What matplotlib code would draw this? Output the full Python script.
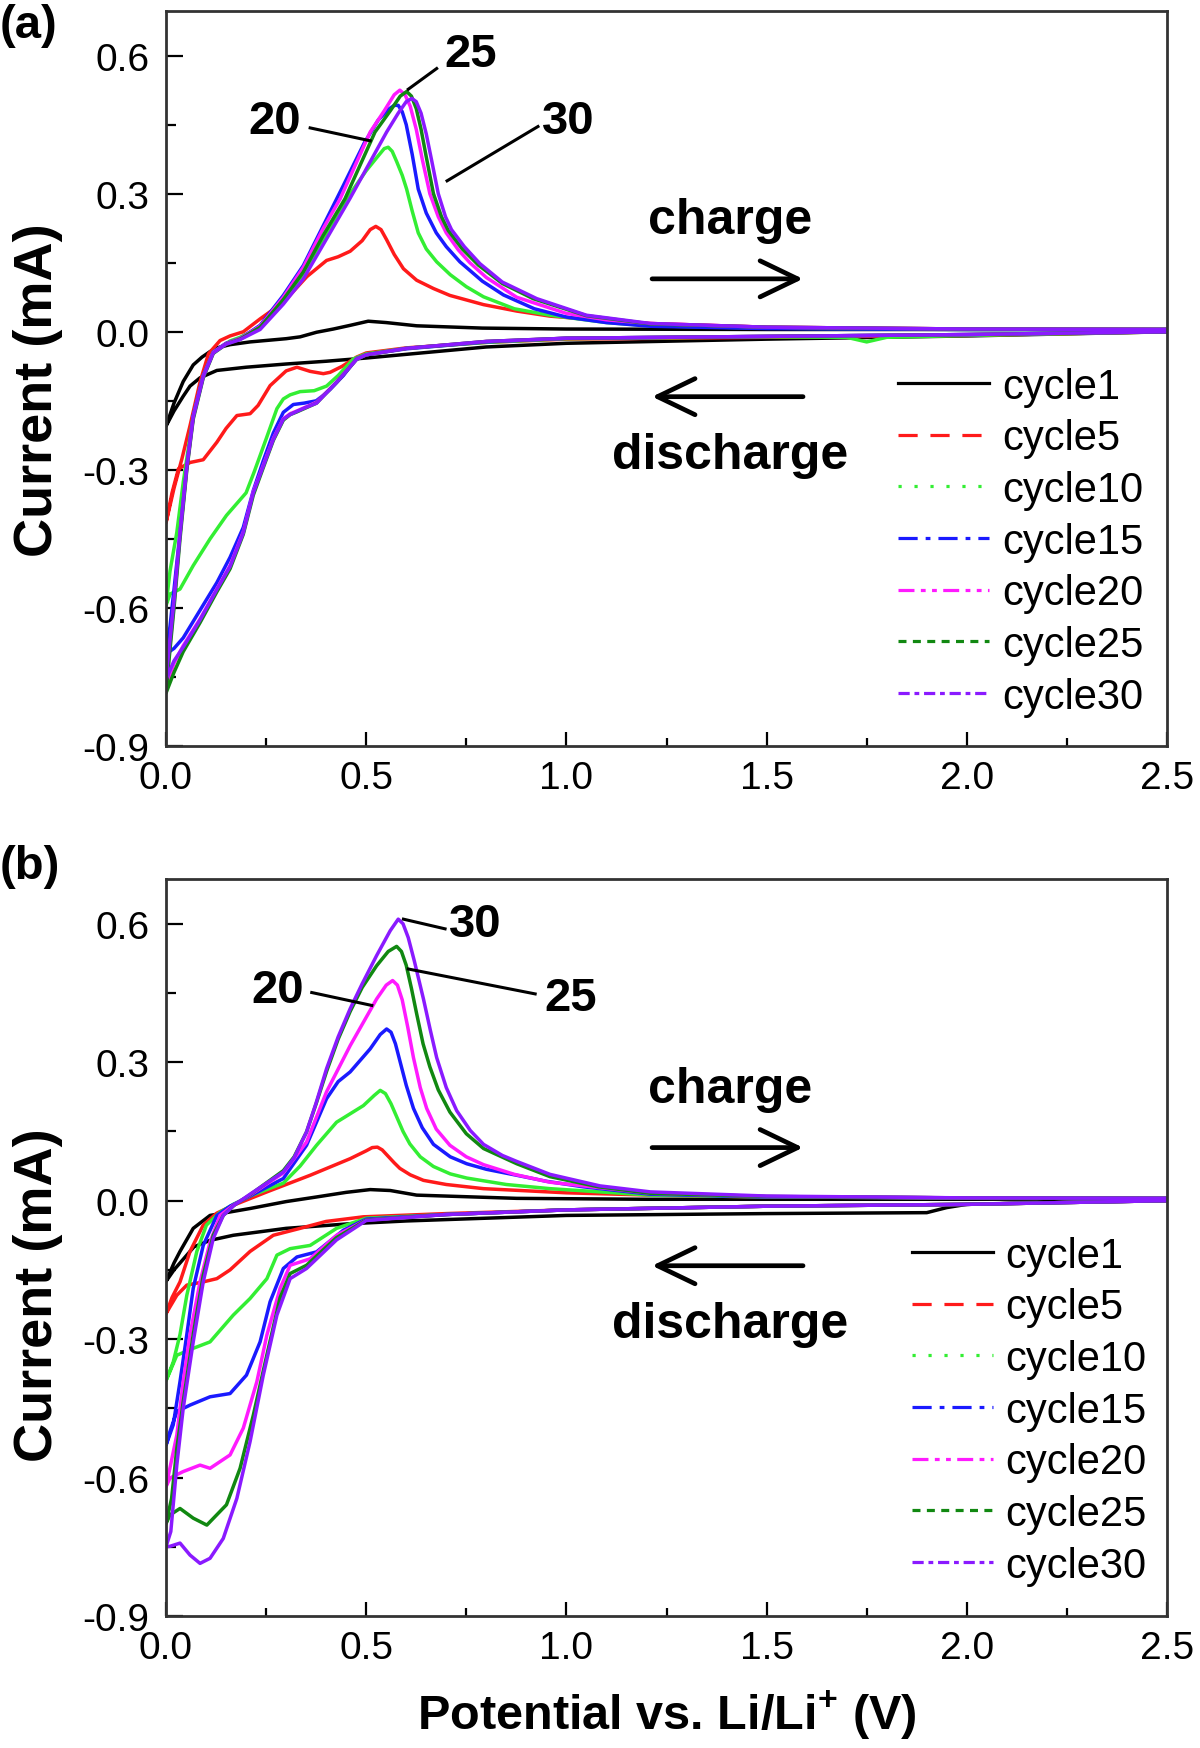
import matplotlib
matplotlib.use('Agg')
import matplotlib.pyplot as plt
from matplotlib.lines import Line2D
from matplotlib.ticker import MultipleLocator, FixedLocator, FixedFormatter

plt.rcParams['font.family'] = ['Liberation Sans', 'DejaVu Sans']
plt.rcParams['axes.unicode_minus'] = False
plt.rcParams['mathtext.fontset'] = 'custom'
plt.rcParams['mathtext.rm'] = 'Liberation Sans'
plt.rcParams['mathtext.bf'] = 'Liberation Sans:bold'

# ---------------- data ----------------
cycles = ['cycle1', 'cycle5', 'cycle10', 'cycle15', 'cycle20', 'cycle25', 'cycle30']
colors = ['#000000', '#ff1a1a', '#33ee33', '#1a1aff', '#ff1aff', '#118811', '#8a1aff']
styles = ['-', (0, (6, 4)), (0, (1, 4)), (0, (6, 2.5, 1.5, 2.5)),
          (0, (5, 2, 1.5, 2, 1.5, 2)), (0, (2.5, 2)), (0, (3.5, 1.5, 1.5, 1.5))]

x_ticks = [0.0, 0.5, 1.0, 1.5, 2.0, 2.5]
x_ticklabels = ['0.0', '0.5', '1.0', '1.5', '2.0', '2.5']
y_ticks = [-0.9, -0.6, -0.3, 0.0, 0.3, 0.6]
y_ticklabels = ['-0.9', '-0.6', '-0.3', '0.0', '0.3', '0.6']

# panel (a): (potential V, current mA) points, discharge (2.5 -> 0) and charge (0 -> 2.5)
a_c1_dis = [(2.5, 0.0), (2.0, -0.009), (1.5, -0.016), (1.0, -0.025), (0.8, -0.033), (0.6, -0.049),
            (0.5, -0.057), (0.4, -0.064), (0.3, -0.07), (0.2, -0.077), (0.127, -0.084), (0.085, -0.1),
            (0.06, -0.118), (0.043, -0.14), (0.02, -0.172), (0.0, -0.205)]
a_c1_chg = [(0.0, -0.205), (0.02, -0.155), (0.043, -0.108), (0.068, -0.072), (0.09, -0.055), (0.11, -0.043),
            (0.127, -0.035), (0.16, -0.028), (0.21, -0.022), (0.3, -0.015), (0.335, -0.011), (0.376, -0.001),
            (0.418, 0.006), (0.46, 0.014), (0.505, 0.023), (0.55, 0.02), (0.626, 0.013), (0.79, 0.008),
            (1.0, 0.006), (1.5, 0.005), (2.0, 0.005), (2.5, 0.005)]
a_c5_dis = [(2.5, 0.0), (2.0, -0.008), (1.5, -0.012), (1.0, -0.016), (0.8, -0.023), (0.6, -0.035),
            (0.5, -0.046), (0.476, -0.055), (0.44, -0.075), (0.41, -0.088), (0.393, -0.091), (0.36, -0.086),
            (0.327, -0.077), (0.3, -0.085), (0.26, -0.117), (0.23, -0.16), (0.21, -0.178), (0.177, -0.182),
            (0.15, -0.21), (0.127, -0.24), (0.093, -0.278), (0.06, -0.284), (0.031, -0.298), (0.015, -0.35),
            (0.0, -0.415)]
a_c5_chg = [(0.0, -0.415), (0.02, -0.34), (0.04, -0.275), (0.06, -0.204), (0.085, -0.109), (0.106, -0.048),
            (0.135, -0.019), (0.16, -0.009), (0.193, 0.0), (0.235, 0.028), (0.293, 0.064), (0.352, 0.12),
            (0.401, 0.155), (0.43, 0.163), (0.46, 0.175), (0.49, 0.198), (0.51, 0.222), (0.524, 0.229),
            (0.537, 0.222), (0.551, 0.2), (0.57, 0.168), (0.593, 0.137), (0.626, 0.112), (0.668, 0.094),
            (0.709, 0.079), (0.793, 0.059), (0.876, 0.045), (0.959, 0.034), (1.1, 0.024), (1.21, 0.018),
            (1.5, 0.01), (2.0, 0.006), (2.5, 0.005)]
a_c10_dis = [(2.5, 0.0), (2.0, -0.008), (1.8, -0.012), (1.75, -0.022), (1.7, -0.012), (1.5, -0.011),
             (1.0, -0.015), (0.8, -0.023), (0.6, -0.036), (0.5, -0.048), (0.468, -0.059), (0.43, -0.095),
             (0.401, -0.118), (0.37, -0.128), (0.335, -0.13), (0.31, -0.137), (0.293, -0.146), (0.277, -0.167),
             (0.25, -0.233), (0.22, -0.305), (0.2, -0.35), (0.151, -0.399), (0.11, -0.45), (0.068, -0.508),
             (0.035, -0.559), (0.01, -0.57), (0.0, -0.595)]
a_c10_chg = [(0.0, -0.595), (0.01, -0.52), (0.027, -0.436), (0.043, -0.327), (0.068, -0.182), (0.093, -0.095),
             (0.118, -0.044), (0.16, -0.02), (0.185, -0.012), (0.235, 0.01), (0.293, 0.065), (0.343, 0.125),
             (0.393, 0.2), (0.46, 0.3), (0.5, 0.35), (0.526, 0.378), (0.545, 0.398), (0.555, 0.401),
             (0.565, 0.392), (0.576, 0.37), (0.59, 0.34), (0.601, 0.31), (0.615, 0.262), (0.63, 0.215),
             (0.65, 0.18), (0.676, 0.152), (0.71, 0.124), (0.75, 0.098), (0.793, 0.076), (0.87, 0.05),
             (0.959, 0.036), (1.1, 0.02), (1.21, 0.013), (1.5, 0.008), (2.0, 0.005), (2.5, 0.005)]
a_c15_dis = [(2.5, 0.0), (2.0, -0.006), (1.5, -0.01), (1.0, -0.014), (0.8, -0.022), (0.6, -0.037),
             (0.5, -0.05), (0.476, -0.058), (0.443, -0.095), (0.41, -0.125), (0.393, -0.138), (0.375, -0.15),
             (0.345, -0.155), (0.318, -0.158), (0.293, -0.175), (0.268, -0.22), (0.243, -0.28), (0.218, -0.345),
             (0.193, -0.425), (0.16, -0.49), (0.127, -0.545), (0.085, -0.605), (0.043, -0.665), (0.02, -0.688),
             (0.0, -0.70)]
a_c15_chg = [(0.0, -0.70), (0.01, -0.64), (0.02, -0.56), (0.035, -0.436), (0.052, -0.29), (0.068, -0.182),
             (0.093, -0.095), (0.118, -0.044), (0.15, -0.025), (0.185, -0.015), (0.235, 0.014), (0.293, 0.079),
             (0.343, 0.144), (0.393, 0.231), (0.443, 0.318), (0.495, 0.41), (0.53, 0.46), (0.555, 0.483),
             (0.57, 0.492), (0.58, 0.492), (0.59, 0.478), (0.6, 0.45), (0.615, 0.385), (0.63, 0.31),
             (0.65, 0.258), (0.675, 0.215), (0.7, 0.185), (0.734, 0.152), (0.79, 0.11), (0.843, 0.08),
             (0.92, 0.05), (1.0, 0.032), (1.1, 0.02), (1.21, 0.012), (1.5, 0.007), (2.0, 0.005), (2.5, 0.005)]
a_c20_dis = [(2.5, 0.0), (2.0, -0.006), (1.5, -0.01), (1.0, -0.014), (0.8, -0.021), (0.6, -0.036),
             (0.5, -0.05), (0.476, -0.059), (0.426, -0.109), (0.376, -0.153), (0.345, -0.165), (0.327, -0.172),
             (0.31, -0.178), (0.293, -0.189), (0.268, -0.232), (0.243, -0.29), (0.218, -0.348), (0.193, -0.435),
             (0.16, -0.508), (0.127, -0.559), (0.085, -0.624), (0.043, -0.682), (0.02, -0.72), (0.0, -0.77)]
a_c20_chg = [(0.0, -0.77), (0.01, -0.68), (0.02, -0.59), (0.035, -0.44), (0.052, -0.295), (0.068, -0.185),
             (0.093, -0.097), (0.118, -0.045), (0.15, -0.026), (0.185, -0.015), (0.235, 0.012), (0.293, 0.075),
             (0.343, 0.14), (0.393, 0.225), (0.435, 0.289), (0.51, 0.434), (0.545, 0.48), (0.57, 0.515),
             (0.584, 0.525), (0.597, 0.515), (0.61, 0.49), (0.625, 0.44), (0.64, 0.375), (0.659, 0.3),
             (0.68, 0.25), (0.7, 0.215), (0.73, 0.178), (0.759, 0.15), (0.8, 0.118), (0.876, 0.075),
             (1.0, 0.04), (1.1, 0.026), (1.21, 0.018), (1.5, 0.01), (2.0, 0.006), (2.5, 0.005)]
a_c25_dis = [(2.5, 0.0), (2.0, -0.006), (1.5, -0.01), (1.0, -0.014), (0.8, -0.021), (0.6, -0.036),
             (0.5, -0.05), (0.476, -0.06), (0.426, -0.11), (0.376, -0.155), (0.345, -0.167), (0.327, -0.174),
             (0.31, -0.18), (0.293, -0.192), (0.268, -0.236), (0.243, -0.295), (0.218, -0.355), (0.193, -0.44),
             (0.16, -0.515), (0.127, -0.565), (0.085, -0.632), (0.043, -0.695), (0.02, -0.74), (0.0, -0.785)]
a_c25_chg = [(0.0, -0.785), (0.01, -0.69), (0.02, -0.6), (0.035, -0.45), (0.052, -0.3), (0.068, -0.19),
             (0.093, -0.1), (0.118, -0.047), (0.15, -0.027), (0.185, -0.016), (0.235, 0.01), (0.293, 0.07),
             (0.343, 0.13), (0.393, 0.21), (0.447, 0.289), (0.522, 0.434), (0.56, 0.48), (0.585, 0.512),
             (0.601, 0.522), (0.613, 0.512), (0.625, 0.485), (0.637, 0.44), (0.65, 0.38), (0.668, 0.3),
             (0.688, 0.25), (0.705, 0.22), (0.74, 0.18), (0.78, 0.145), (0.84, 0.105), (0.917, 0.072),
             (1.05, 0.035), (1.21, 0.017), (1.5, 0.01), (2.0, 0.006), (2.5, 0.005)]
a_c30_dis = [(2.5, 0.0), (2.0, -0.006), (1.5, -0.01), (1.0, -0.014), (0.8, -0.021), (0.6, -0.036),
             (0.5, -0.05), (0.476, -0.06), (0.426, -0.11), (0.376, -0.155), (0.345, -0.166), (0.327, -0.173),
             (0.31, -0.18), (0.293, -0.19), (0.268, -0.234), (0.243, -0.292), (0.218, -0.35), (0.193, -0.437),
             (0.16, -0.51), (0.127, -0.56), (0.085, -0.626), (0.043, -0.685), (0.02, -0.715), (0.0, -0.755)]
a_c30_chg = [(0.0, -0.755), (0.01, -0.67), (0.02, -0.585), (0.035, -0.44), (0.052, -0.295), (0.068, -0.186),
             (0.093, -0.098), (0.118, -0.046), (0.15, -0.027), (0.185, -0.017), (0.235, 0.005), (0.293, 0.06),
             (0.343, 0.115), (0.393, 0.19), (0.459, 0.289), (0.551, 0.434), (0.58, 0.475), (0.6, 0.5),
             (0.614, 0.507), (0.625, 0.5), (0.637, 0.475), (0.65, 0.43), (0.664, 0.37), (0.68, 0.3),
             (0.698, 0.25), (0.713, 0.222), (0.745, 0.185), (0.784, 0.148), (0.84, 0.108), (0.926, 0.072),
             (1.05, 0.036), (1.21, 0.018), (1.5, 0.01), (2.0, 0.006), (2.5, 0.005)]

# panel (b)
b_c1_dis = [(2.5, 0.0), (2.2, -0.004), (2.0, -0.008), (1.95, -0.015), (1.9, -0.026), (1.5, -0.028),
            (1.0, -0.032), (0.6, -0.044), (0.46, -0.05), (0.3, -0.06), (0.168, -0.075), (0.11, -0.086),
            (0.07, -0.1), (0.043, -0.127), (0.02, -0.15), (0.0, -0.175)]
b_c1_chg = [(0.0, -0.175), (0.02, -0.135), (0.035, -0.11), (0.068, -0.06), (0.11, -0.032), (0.21, -0.017),
            (0.3, -0.002), (0.376, 0.008), (0.45, 0.018), (0.51, 0.024), (0.56, 0.022), (0.626, 0.012),
            (0.876, 0.005), (1.2, 0.003), (1.5, 0.003), (2.0, 0.003), (2.5, 0.004)]
b_c5_dis = [(2.5, 0.0), (2.0, -0.008), (1.5, -0.012), (1.0, -0.02), (0.7, -0.028), (0.493, -0.035),
            (0.4, -0.045), (0.335, -0.06), (0.268, -0.075), (0.21, -0.11), (0.16, -0.15), (0.127, -0.169),
            (0.093, -0.176), (0.052, -0.183), (0.027, -0.205), (0.01, -0.23), (0.0, -0.245)]
b_c5_chg = [(0.0, -0.245), (0.015, -0.21), (0.035, -0.176), (0.06, -0.11), (0.093, -0.053), (0.127, -0.027),
            (0.168, -0.01), (0.252, 0.019), (0.36, 0.055), (0.46, 0.091), (0.5, 0.108), (0.515, 0.115),
            (0.528, 0.116), (0.54, 0.11), (0.555, 0.096), (0.57, 0.082), (0.584, 0.07), (0.61, 0.056),
            (0.643, 0.044), (0.7, 0.035), (0.793, 0.026), (1.0, 0.017), (1.21, 0.012), (1.5, 0.008),
            (2.0, 0.006), (2.5, 0.005)]
b_c10_dis = [(2.5, 0.0), (2.0, -0.008), (1.5, -0.012), (1.0, -0.02), (0.7, -0.03), (0.5, -0.038),
             (0.426, -0.06), (0.36, -0.097), (0.31, -0.104), (0.277, -0.118), (0.252, -0.169), (0.21, -0.212),
             (0.168, -0.248), (0.11, -0.306), (0.068, -0.32), (0.027, -0.335), (0.01, -0.37), (0.0, -0.39)]
b_c10_chg = [(0.0, -0.39), (0.018, -0.35), (0.035, -0.29), (0.052, -0.205), (0.077, -0.11), (0.101, -0.053),
             (0.135, -0.025), (0.168, -0.008), (0.21, 0.01), (0.293, 0.038), (0.335, 0.075), (0.376, 0.12),
             (0.426, 0.17), (0.493, 0.206), (0.52, 0.228), (0.535, 0.239), (0.548, 0.232), (0.562, 0.21),
             (0.576, 0.182), (0.592, 0.15), (0.609, 0.123), (0.635, 0.095), (0.668, 0.074), (0.71, 0.058),
             (0.751, 0.049), (0.85, 0.035), (0.959, 0.026), (1.21, 0.012), (1.5, 0.008), (2.0, 0.006),
             (2.5, 0.005)]
b_c15_dis = [(2.5, 0.0), (2.0, -0.008), (1.5, -0.012), (1.0, -0.02), (0.7, -0.03), (0.5, -0.04),
             (0.443, -0.064), (0.376, -0.111), (0.327, -0.122), (0.293, -0.147), (0.26, -0.219), (0.235, -0.306),
             (0.201, -0.378), (0.16, -0.418), (0.11, -0.425), (0.06, -0.443), (0.027, -0.457), (0.01, -0.5),
             (0.0, -0.53)]
b_c15_chg = [(0.0, -0.53), (0.018, -0.486), (0.035, -0.392), (0.052, -0.29), (0.068, -0.19), (0.093, -0.097),
             (0.127, -0.032), (0.16, -0.012), (0.21, 0.01), (0.293, 0.048), (0.351, 0.12), (0.401, 0.221),
             (0.43, 0.258), (0.46, 0.279), (0.51, 0.329), (0.535, 0.36), (0.551, 0.372), (0.562, 0.365),
             (0.573, 0.34), (0.585, 0.3), (0.6, 0.25), (0.618, 0.2), (0.64, 0.158), (0.668, 0.122),
             (0.71, 0.095), (0.751, 0.08), (0.8, 0.068), (0.876, 0.055), (0.95, 0.042), (1.042, 0.03),
             (1.21, 0.014), (1.5, 0.008), (2.0, 0.006), (2.5, 0.005)]
b_c20_dis = [(2.5, 0.0), (2.0, -0.008), (1.5, -0.012), (1.0, -0.02), (0.7, -0.03), (0.5, -0.042),
             (0.426, -0.075), (0.36, -0.126), (0.31, -0.14), (0.285, -0.19), (0.252, -0.291), (0.227, -0.392),
             (0.193, -0.493), (0.16, -0.551), (0.11, -0.58), (0.085, -0.573), (0.043, -0.587), (0.01, -0.601),
             (0.0, -0.62)]
b_c20_chg = [(0.0, -0.62), (0.027, -0.508), (0.043, -0.392), (0.06, -0.29), (0.085, -0.176), (0.11, -0.09),
             (0.135, -0.032), (0.168, -0.01), (0.21, 0.012), (0.293, 0.06), (0.351, 0.127), (0.401, 0.236),
             (0.46, 0.336), (0.526, 0.437), (0.55, 0.467), (0.566, 0.477), (0.578, 0.467), (0.59, 0.435),
             (0.604, 0.375), (0.618, 0.31), (0.635, 0.245), (0.651, 0.2), (0.675, 0.155), (0.709, 0.12),
             (0.75, 0.095), (0.793, 0.078), (0.87, 0.057), (0.959, 0.04), (1.21, 0.016), (1.5, 0.009),
             (2.0, 0.006), (2.5, 0.005)]
b_c25_dis = [(2.5, 0.0), (2.0, -0.008), (1.5, -0.012), (1.0, -0.02), (0.7, -0.03), (0.5, -0.042),
             (0.426, -0.08), (0.351, -0.14), (0.31, -0.158), (0.285, -0.21), (0.252, -0.334), (0.218, -0.465),
             (0.185, -0.58), (0.151, -0.659), (0.102, -0.703), (0.068, -0.688), (0.035, -0.667), (0.01, -0.681),
             (0.0, -0.70)]
b_c25_chg = [(0.0, -0.70), (0.014, -0.645), (0.027, -0.537), (0.043, -0.436), (0.068, -0.29), (0.093, -0.162),
             (0.118, -0.075), (0.143, -0.032), (0.17, -0.01), (0.21, 0.013), (0.293, 0.065), (0.32, 0.095),
             (0.351, 0.149), (0.375, 0.21), (0.401, 0.28), (0.43, 0.35), (0.46, 0.41), (0.49, 0.462),
             (0.526, 0.509), (0.555, 0.54), (0.576, 0.551), (0.588, 0.54), (0.6, 0.51), (0.613, 0.46),
             (0.626, 0.405), (0.642, 0.34), (0.659, 0.29), (0.68, 0.24), (0.709, 0.192), (0.75, 0.145),
             (0.793, 0.113), (0.876, 0.08), (0.959, 0.052), (1.08, 0.03), (1.21, 0.016), (1.5, 0.009),
             (2.0, 0.006), (2.5, 0.005)]
b_c30_dis = [(2.5, 0.0), (2.0, -0.008), (1.5, -0.012), (1.0, -0.02), (0.7, -0.03), (0.5, -0.043),
             (0.426, -0.085), (0.351, -0.147), (0.31, -0.169), (0.277, -0.248), (0.243, -0.378), (0.21, -0.522),
             (0.177, -0.645), (0.143, -0.732), (0.11, -0.775), (0.085, -0.786), (0.06, -0.768), (0.035, -0.742),
             (0.01, -0.749), (0.0, -0.75)]
b_c30_chg = [(0.0, -0.75), (0.012, -0.717), (0.027, -0.573), (0.043, -0.45), (0.068, -0.306), (0.093, -0.176),
             (0.118, -0.082), (0.143, -0.032), (0.17, -0.01), (0.21, 0.014), (0.293, 0.062), (0.32, 0.093),
             (0.351, 0.149), (0.375, 0.212), (0.401, 0.286), (0.43, 0.355), (0.46, 0.416), (0.49, 0.47),
             (0.526, 0.531), (0.56, 0.585), (0.58, 0.61), (0.592, 0.6), (0.605, 0.57), (0.62, 0.52),
             (0.643, 0.437), (0.66, 0.37), (0.676, 0.31), (0.7, 0.245), (0.726, 0.195), (0.76, 0.152),
             (0.793, 0.122), (0.84, 0.098), (0.876, 0.085), (0.959, 0.057), (1.084, 0.032), (1.21, 0.019),
             (1.5, 0.01), (2.0, 0.006), (2.5, 0.005)]

panel_a = [(a_c1_dis, a_c1_chg), (a_c5_dis, a_c5_chg), (a_c10_dis, a_c10_chg), (a_c15_dis, a_c15_chg),
           (a_c20_dis, a_c20_chg), (a_c25_dis, a_c25_chg), (a_c30_dis, a_c30_chg)]
panel_b = [(b_c1_dis, b_c1_chg), (b_c5_dis, b_c5_chg), (b_c10_dis, b_c10_chg), (b_c15_dis, b_c15_chg),
           (b_c20_dis, b_c20_chg), (b_c25_dis, b_c25_chg), (b_c30_dis, b_c30_chg)]

# ---------------- figure ----------------
W, H = 1200, 1749
fig = plt.figure(figsize=(W / 100, H / 100), dpi=100)
ax_a = fig.add_axes([166 / W, 1 - 747 / H, 1001 / W, 735 / H])
ax_b = fig.add_axes([166 / W, 1 - 1617 / H, 1001 / W, 737 / H])

TICK_FS = 28
LEG_FS = 30
LW = 2.5


def style_axes(ax):
    ax.set_xlim(0, 2.5)
    ax.set_ylim(-0.9, 0.697)
    ax.xaxis.set_major_locator(FixedLocator(x_ticks))
    ax.xaxis.set_major_formatter(FixedFormatter(x_ticklabels))
    ax.yaxis.set_major_locator(FixedLocator(y_ticks))
    ax.yaxis.set_major_formatter(FixedFormatter(y_ticklabels))
    ax.xaxis.set_minor_locator(MultipleLocator(0.25))
    ax.yaxis.set_minor_locator(MultipleLocator(0.15))
    ax.tick_params(axis='both', which='both', direction='in', top=False, right=False, width=1.6,
                   labelsize=TICK_FS)
    ax.tick_params(axis='x', which='major', length=10, pad=10)
    ax.tick_params(axis='y', which='major', length=12, pad=12)
    ax.tick_params(axis='x', which='minor', length=6)
    ax.tick_params(axis='y', which='minor', length=7)
    for sp in ax.spines.values():
        sp.set_linewidth(2.0)
        sp.set_color('#333333')


def draw_panel(ax, data):
    for (dis, chg), col in zip(data, colors):
        pts = dis + chg[1:]
        ax.plot([p[0] for p in pts], [p[1] for p in pts], color=col, lw=LW, ls='-',
                solid_joinstyle='round')


def decorate(ax, leg_xy, hlen):
    arrow_kw = dict(arrowstyle='->,head_length=1.35,head_width=0.65', lw=3.4, color='k',
                    mutation_scale=20, shrinkA=0, shrinkB=0)
    ax.annotate('', xy=(1.591, 0.115), xytext=(1.214, 0.115), arrowprops=arrow_kw)
    ax.annotate('', xy=(1.214, -0.141), xytext=(1.591, -0.141), arrowprops=arrow_kw)
    ax.text(1.408, 0.243, 'charge', fontsize=36, fontweight='bold', ha='center', va='center')
    ax.text(1.408, -0.268, 'discharge', fontsize=36, fontweight='bold', ha='center', va='center')
    handles = [Line2D([], [], color=c, ls=s, lw=2.3) for c, s in zip(colors, styles)]
    ax.legend(handles, cycles, loc='upper left', bbox_to_anchor=leg_xy, frameon=False,
              fontsize=LEG_FS, handlelength=hlen, handletextpad=0.3, labelspacing=0.28,
              borderpad=0, borderaxespad=0)


for ax, data in ((ax_a, panel_a), (ax_b, panel_b)):
    style_axes(ax)
    draw_panel(ax, data)

decorate(ax_a, (0.731, 0.516), 2.2)
decorate(ax_b, (0.745, 0.516), 1.95)

num_kw = dict(fontsize=34, fontweight='bold', ha='center', va='center')
LL = 2.2
# panel (a) cycle labels
ax_a.text(0.272, 0.457, '20', **num_kw)
ax_a.plot([0.36, 0.51], [0.443, 0.415], color='k', lw=LL)
ax_a.text(0.761, 0.604, '25', **num_kw)
ax_a.plot([0.676, 0.605], [0.572, 0.527], color='k', lw=LL)
ax_a.text(1.004, 0.459, '30', **num_kw)
ax_a.plot([0.929, 0.702], [0.446, 0.328], color='k', lw=LL)
# panel (b) cycle labels
ax_b.text(0.772, 0.6, '30', **num_kw)
ax_b.plot([0.697, 0.593], [0.589, 0.61], color='k', lw=LL)
ax_b.text(1.011, 0.439, '25', **num_kw)
ax_b.plot([0.922, 0.605], [0.448, 0.502], color='k', lw=LL)
ax_b.text(0.278, 0.457, '20', **num_kw)
ax_b.plot([0.364, 0.514], [0.451, 0.423], color='k', lw=LL)

# axis labels
for ax, yc in ((ax_a, 0.486), (ax_b, 0.437)):
    ax.set_ylabel('Current (mA)', fontsize=39, fontweight='bold')
    ax.yaxis.set_label_coords(-0.103, yc)
ax_b.set_xlabel(r'Potential vs. Li/Li$^{\mathbf{+}}$ (V)', fontsize=35, fontweight='bold')
ax_b.xaxis.set_label_coords(0.5, -0.097)

fig.text(0.0, 1 - 4 / H, '(a)', fontsize=34, fontweight='bold', ha='left', va='top')
fig.text(0.0, 1 - 845 / H, '(b)', fontsize=34, fontweight='bold', ha='left', va='top')

fig.savefig('out.png', dpi=100)
